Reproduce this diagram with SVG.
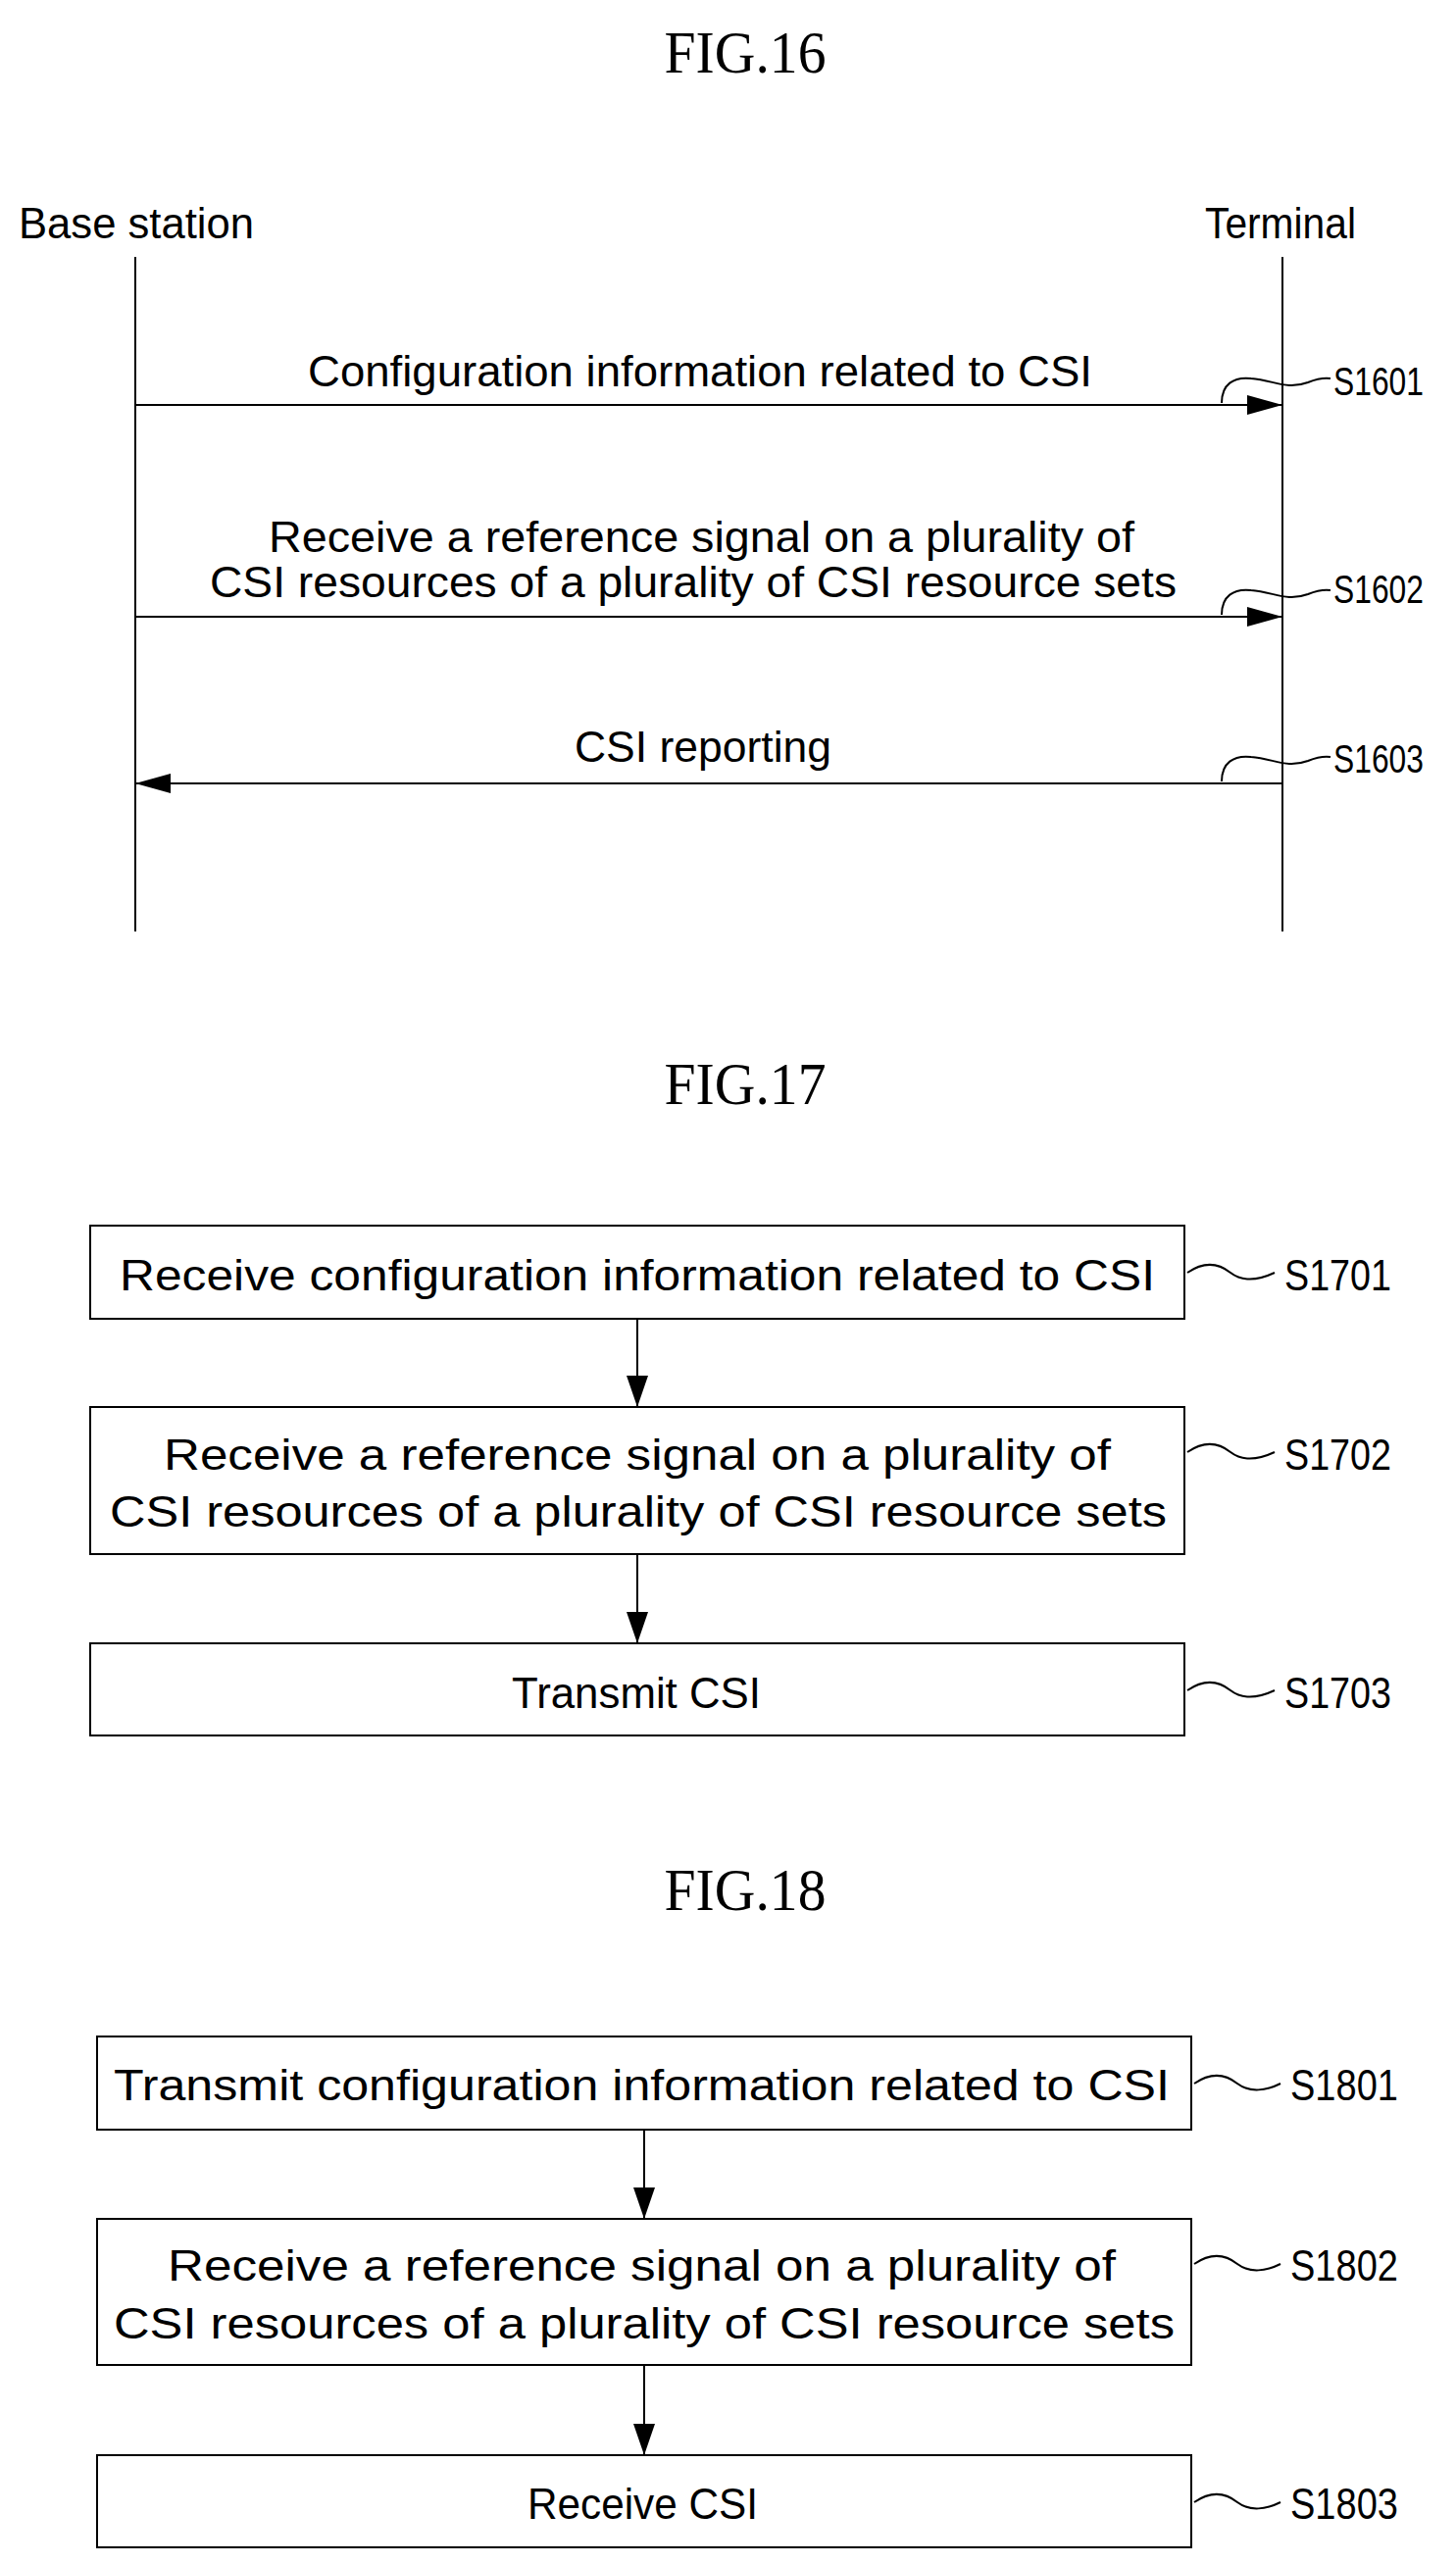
<svg xmlns="http://www.w3.org/2000/svg" width="1485" height="2615" viewBox="0 0 1485 2615">
<style>
text{font-family:"Liberation Sans",Arial,sans-serif;font-size:44px;fill:#000}
.fig{font-family:"Liberation Serif","Times New Roman",serif;font-size:62px;text-anchor:middle}
.ln{stroke:#000;stroke-width:2;fill:none}
.box{stroke:#000;stroke-width:2;fill:#fff}
.lab{font-size:40px}
</style>
<defs>
<marker id="ah" markerUnits="userSpaceOnUse" markerWidth="40" markerHeight="24" refX="36" refY="10" orient="auto"><path d="M0,0 L36,10 L0,20 Z" fill="#000"/></marker>
<marker id="av" markerUnits="userSpaceOnUse" markerWidth="34" markerHeight="26" refX="32" refY="11" orient="auto"><path d="M0,0 L32,11 L0,22 Z" fill="#000"/></marker>
</defs>
<rect width="1485" height="2615" fill="#fff"/>

<g id="fig16">
<text class="fig" x="760" y="74" textLength="165" lengthAdjust="spacingAndGlyphs">FIG.16</text>
<g id="base"><text x="19" y="243" textLength="240" lengthAdjust="spacingAndGlyphs">Base station</text><line class="ln" x1="138" y1="262" x2="138" y2="950"/></g>
<g id="terminal"><text x="1229" y="243" textLength="154" lengthAdjust="spacingAndGlyphs">Terminal</text><line class="ln" x1="1308" y1="262" x2="1308" y2="950"/></g>
<g id="m1"><text x="314" y="394" textLength="800" lengthAdjust="spacingAndGlyphs">Configuration information related to CSI</text>
<path class="ln" d="M1246,411 C1246,392 1258,384 1276,386 C1300,388 1312,398 1334,390 C1344,386 1350,385 1357,386"/>
<text class="lab" x="1360" y="403" textLength="92" lengthAdjust="spacingAndGlyphs">S1601</text></g>
<g id="m2"><text x="274" y="563" textLength="883" lengthAdjust="spacingAndGlyphs">Receive a reference signal on a plurality of</text>
<text x="214" y="609" textLength="986" lengthAdjust="spacingAndGlyphs">CSI resources of a plurality of CSI resource sets</text>
<path class="ln" d="M1246,627 C1246,608 1258,600 1276,602 C1300,604 1312,614 1334,606 C1344,602 1350,601 1357,602"/>
<text class="lab" x="1360" y="615" textLength="92" lengthAdjust="spacingAndGlyphs">S1602</text></g>
<g id="m3"><text x="586" y="777" textLength="262" lengthAdjust="spacingAndGlyphs">CSI reporting</text>
<path class="ln" d="M1246,797 C1246,778 1258,770 1276,772 C1300,774 1312,784 1334,776 C1344,772 1350,771 1357,772"/>
<text class="lab" x="1360" y="788" textLength="92" lengthAdjust="spacingAndGlyphs">S1603</text></g>
</g>

<g id="fig17">
<text class="fig" x="760" y="1126" textLength="165" lengthAdjust="spacingAndGlyphs">FIG.17</text>
<g id="s1701"><rect class="box" x="92" y="1250" width="1116" height="95"/>
<text x="122" y="1316" textLength="1056" lengthAdjust="spacingAndGlyphs">Receive configuration information related to CSI</text>
<path class="ln" d="M1211,1298 C1230,1285 1245,1290 1255,1298 C1268,1308 1285,1305 1300,1298"/>
<text x="1310" y="1316" textLength="109" lengthAdjust="spacingAndGlyphs">S1701</text></g>
<g id="s1702"><rect class="box" x="92" y="1435" width="1116" height="150"/>
<text x="167" y="1499" textLength="966" lengthAdjust="spacingAndGlyphs">Receive a reference signal on a plurality of</text>
<text x="112" y="1557" textLength="1078" lengthAdjust="spacingAndGlyphs">CSI resources of a plurality of CSI resource sets</text>
<path class="ln" d="M1211,1481 C1230,1468 1245,1473 1255,1481 C1268,1491 1285,1488 1300,1481"/>
<text x="1310" y="1499" textLength="109" lengthAdjust="spacingAndGlyphs">S1702</text></g>
<g id="s1703"><rect class="box" x="92" y="1676" width="1116" height="94"/>
<text x="522" y="1742" textLength="254" lengthAdjust="spacingAndGlyphs">Transmit CSI</text>
<path class="ln" d="M1211,1724 C1230,1711 1245,1716 1255,1724 C1268,1734 1285,1731 1300,1724"/>
<text x="1310" y="1742" textLength="109" lengthAdjust="spacingAndGlyphs">S1703</text></g>
</g>

<g id="fig18">
<text class="fig" x="760" y="1948" textLength="165" lengthAdjust="spacingAndGlyphs">FIG.18</text>
<g id="s1801"><rect class="box" x="99" y="2077" width="1116" height="95"/>
<text x="116" y="2142" textLength="1077" lengthAdjust="spacingAndGlyphs">Transmit configuration information related to CSI</text>
<path class="ln" d="M1218,2125 C1237,2112 1252,2117 1262,2125 C1275,2135 1292,2132 1306,2125"/>
<text x="1316" y="2142" textLength="110" lengthAdjust="spacingAndGlyphs">S1801</text></g>
<g id="s1802"><rect class="box" x="99" y="2263" width="1116" height="149"/>
<text x="171" y="2326" textLength="967" lengthAdjust="spacingAndGlyphs">Receive a reference signal on a plurality of</text>
<text x="116" y="2385" textLength="1082" lengthAdjust="spacingAndGlyphs">CSI resources of a plurality of CSI resource sets</text>
<path class="ln" d="M1218,2309 C1237,2296 1252,2301 1262,2309 C1275,2319 1292,2316 1306,2309"/>
<text x="1316" y="2326" textLength="110" lengthAdjust="spacingAndGlyphs">S1802</text></g>
<g id="s1803"><rect class="box" x="99" y="2504" width="1116" height="94"/>
<text x="538" y="2569" textLength="235" lengthAdjust="spacingAndGlyphs">Receive CSI</text>
<path class="ln" d="M1218,2552 C1237,2539 1252,2544 1262,2552 C1275,2562 1292,2559 1306,2552"/>
<text x="1316" y="2569" textLength="110" lengthAdjust="spacingAndGlyphs">S1803</text></g>
</g>

<g id="connectors">
<line class="ln" x1="138" y1="413" x2="1308" y2="413" marker-end="url(#ah)"/>
<line class="ln" x1="138" y1="629" x2="1308" y2="629" marker-end="url(#ah)"/>
<line class="ln" x1="1308" y1="799" x2="138" y2="799" marker-end="url(#ah)"/>
<line class="ln" x1="650" y1="1345" x2="650" y2="1435" marker-end="url(#av)"/>
<line class="ln" x1="650" y1="1585" x2="650" y2="1676" marker-end="url(#av)"/>
<line class="ln" x1="657" y1="2172" x2="657" y2="2263" marker-end="url(#av)"/>
<line class="ln" x1="657" y1="2412" x2="657" y2="2504" marker-end="url(#av)"/>
</g>
</svg>
